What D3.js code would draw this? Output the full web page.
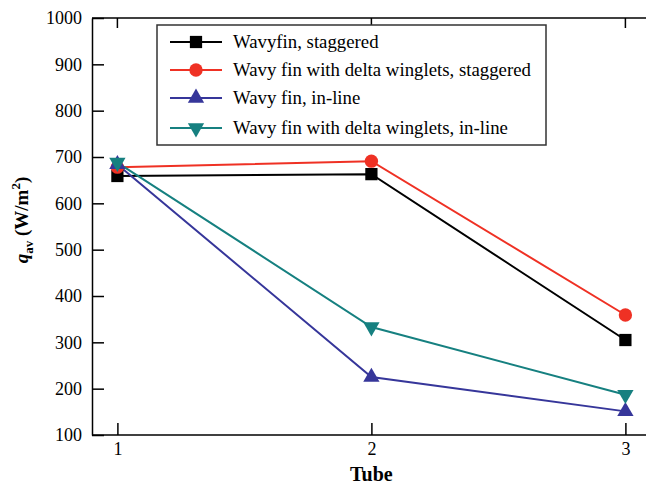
<!DOCTYPE html>
<html lang="en">
<head>
<meta charset="UTF-8">
<title>Tube heat flux</title>
<style>
  body { margin: 0; background: #fff; }
  svg text { font-family: "Liberation Serif", Tinos, "Times New Roman", Times, "DejaVu Serif", serif; }
</style>
</head>
<body>
<div class="container"></div>
<script src="https://cdn.jsdelivr.net/npm/d3@7/dist/d3.min.js"></script>
<script>
const tubes = [1, 2, 3]
const yTicks = [100, 200, 300, 400, 500, 600, 700, 800, 900, 1000]

const seriesNames = [
  "Wavyfin, staggered",
  "Wavy fin with delta winglets, staggered",
  "Wavy fin, in-line",
  "Wavy fin with delta winglets, in-line"
]
const wavyStaggered = [659, 663, 305]
const wingletStaggered = [678, 691, 359]
const wavyInline = [684, 225, 151]
const wingletInline = [688, 333, 187]

const colors = ["#000000", "#ef3124", "#36369a", "#168080"]
const symbols = [d3.symbolSquare, d3.symbolCircle, d3.symbolTriangle, d3.symbolTriangle]
const symbolSizes = [150, 140, 115, 115]

const width = 646
const height = 486
const plotLeft = 92, plotTop = 18, plotBottom = 435

const svg = d3.select(".container").append("svg")
  .attr("width", width)
  .attr("height", height)

const x = d3.scaleLinear().domain([0.9, 3.1]).range([plotLeft, plotLeft + 254 * 2.2])
const y = d3.scaleLinear().domain([100, 1000]).range([plotBottom, plotTop])

const series = [wavyStaggered, wingletStaggered, wavyInline, wingletInline]

// frame: top and bottom run off the right edge
svg.append("line").attr("x1", plotLeft).attr("x2", width).attr("y1", plotTop).attr("y2", plotTop)
  .attr("stroke", "#000").attr("stroke-width", 1.5)

const yAxis = svg.append("g")
  .attr("transform", `translate(${plotLeft},0)`)
  .call(d3.axisLeft(y).tickValues(yTicks).tickFormat(d3.format("d")).tickSizeInner(-12).tickSizeOuter(0).tickPadding(10))
yAxis.attr("font-family", null)
yAxis.select(".domain").attr("stroke-width", 1.5)
yAxis.selectAll(".tick line").attr("stroke-width", 1.5)
yAxis.selectAll("text").attr("font-size", 18).attr("fill", "#000")

const xAxis = svg.append("g")
  .attr("transform", `translate(0,${plotBottom})`)
  .call(d3.axisBottom(x).tickValues(tubes).tickFormat(d3.format("d")).tickSizeInner(-12).tickSizeOuter(0).tickPadding(7))
xAxis.attr("font-family", null)
xAxis.select(".domain").attr("d", `M${plotLeft},0H${width}`).attr("stroke-width", 1.5)
xAxis.selectAll(".tick line").attr("stroke-width", 1.5)
xAxis.selectAll("text").attr("font-size", 18).attr("fill", "#000")

// mirrored ticks on top edge
svg.append("g").selectAll("line").data(tubes).join("line")
  .attr("x1", d => x(d)).attr("x2", d => x(d))
  .attr("y1", plotTop).attr("y2", plotTop + 10)
  .attr("stroke", "#000").attr("stroke-width", 1.5)

// axis titles
svg.append("text")
  .attr("x", x(2)).attr("y", 481)
  .attr("text-anchor", "middle")
  .attr("font-size", 20).attr("font-weight", "bold")
  .text("Tube")

const yl = svg.append("text")
  .attr("transform", `translate(28,220) rotate(-90)`)
  .attr("text-anchor", "middle")
  .attr("font-size", 19).attr("font-weight", "bold")
yl.append("tspan").attr("font-style", "italic").text("q")
yl.append("tspan").attr("font-size", 13).attr("dy", 5).text("av")
yl.append("tspan").attr("dy", -5).text(" (W/m")
yl.append("tspan").attr("font-size", 13).attr("dy", -8).text("2")
yl.append("tspan").attr("dy", 8).text(")")

const line = d3.line().x((d, i) => x(tubes[i])).y(d => y(d))

function marker(g, i) {
  const rot = i === 3 ? 180 : 0
  g.append("path")
    .attr("d", d3.symbol().type(symbols[i]).size(symbolSizes[i])())
    .attr("transform", `rotate(${rot})`)
    .attr("fill", colors[i])
}

series.forEach((vals, i) => {
  svg.append("path")
    .datum(vals)
    .attr("d", line)
    .attr("fill", "none")
    .attr("stroke", colors[i])
    .attr("stroke-width", 2)
})
series.forEach((vals, i) => {
  vals.forEach((v, j) => {
    const g = svg.append("g").attr("transform", `translate(${x(tubes[j])},${y(v)})`)
    marker(g, i)
  })
})

// legend
const legend = svg.append("g")
legend.append("rect")
  .attr("x", 157).attr("y", 25).attr("width", 389).attr("height", 120)
  .attr("fill", "#fff").attr("stroke", "#333").attr("stroke-width", 1.5)
const legendY = [42, 70, 98, 128]
seriesNames.forEach((name, i) => {
  const row = legend.append("g").attr("transform", `translate(0,${legendY[i]})`)
  row.append("line").attr("x1", 170).attr("x2", 222).attr("y1", 0).attr("y2", 0)
    .attr("stroke", colors[i]).attr("stroke-width", 2)
  marker(row.append("g").attr("transform", "translate(196,0)"), i)
  row.append("text").attr("x", 233).attr("y", 6)
    .attr("font-size", 18.8).text(name)
})
</script>
</body>
</html>
